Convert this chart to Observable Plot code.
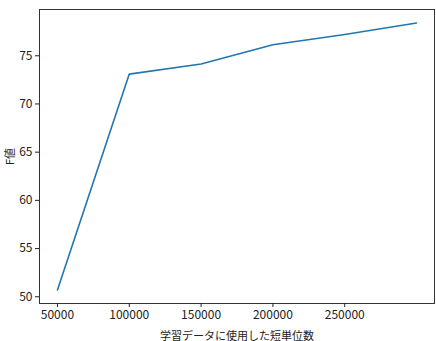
<!DOCTYPE html>
<html>
<head>
<meta charset="utf-8">
<script src="https://cdn.jsdelivr.net/npm/d3@7"></script>
<script src="https://cdn.jsdelivr.net/npm/@observablehq/plot@0.6"></script>
<style>
  html, body { margin: 0; padding: 0; background: #fff; }
  #chart svg { display: block; }
</style>
</head>
<body>
<div id="chart"></div>
<script>
const units = [50000, 100000, 150000, 200000, 250000, 300000];
const fScores = [50.7, 73.1, 74.15, 76.15, 77.2, 78.4];
const xTicks = [50000, 100000, 150000, 200000, 250000];
const yTicks = [50, 55, 60, 65, 70, 75];
const xLabel = "学習データに使用した短単位数";
const yLabel = "F値";

const data = units.map((u, i) => ({u, f: fScores[i]}));

const chart = Plot.plot({
  width: 436,
  height: 341,
  marginLeft: 39,
  marginRight: 2,
  marginTop: 9,
  marginBottom: 38,
  style: {fontFamily: "'Noto Sans CJK JP', 'DejaVu Sans', sans-serif", fontSize: "11px", color: "#222", background: "#fff"},
  x: {domain: [37500, 312500]},
  y: {domain: [49.3, 79.8]},
  marks: [
    Plot.frame({stroke: "#333", strokeWidth: 1}),
    Plot.axisX({ticks: xTicks, tickSize: 4, tickPadding: 3, tickFormat: d => String(d), fontSize: 12, label: null}),
    Plot.axisX({ticks: [], tickSize: 0, fontSize: 11,
      label: xLabel, labelAnchor: "center", labelArrow: "none", labelOffset: 36}),
    Plot.axisY({ticks: yTicks, tickSize: 4, tickPadding: 3, tickFormat: d => String(d), fontSize: 12, label: null}),
    Plot.axisY({ticks: [], tickSize: 0, fontSize: 11,
      label: yLabel, labelAnchor: "center", labelArrow: "none", labelOffset: 33}),
    Plot.line(data, {x: "u", y: "f", stroke: "#1f77b4", strokeWidth: 1.6})
  ]
});
document.getElementById("chart").appendChild(chart);
</script>
</body>
</html>
